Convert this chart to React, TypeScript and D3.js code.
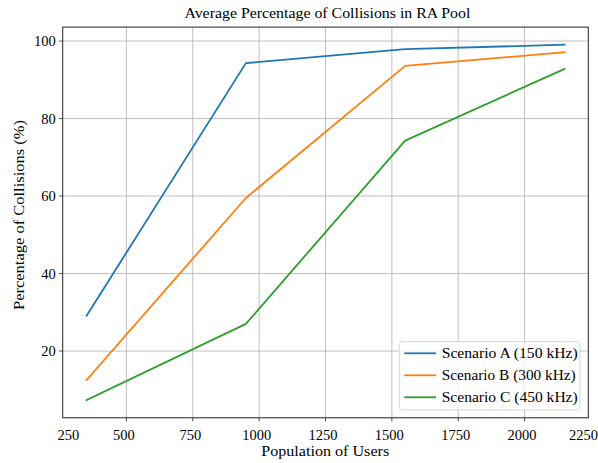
import React from "react";
import * as d3 from "d3";

const populations = [350, 950, 1550, 2150];
const seriesNames = ["Scenario A (150 kHz)", "Scenario B (300 kHz)", "Scenario C (450 kHz)"];
const scenarioA = [29.1, 94.3, 97.9, 99.05];
const scenarioB = [12.5, 59.5, 93.6, 97.1];
const scenarioC = [7.35, 27.0, 74.3, 92.8];
const seriesColors = ["#1f77b4", "#ff7f0e", "#2ca02c"];
const xTicks = [500, 750, 1000, 1250, 1500, 1750, 2000];
const xEdgeLabels = [250, 2250];
const yTicks = [20, 40, 60, 80, 100];

const W = 598;
const H = 463;
const left = 62.7, right = 588.3, top = 27.1, bottom = 417.8;
const FONT = "'Liberation Serif', 'DejaVu Serif', serif";

export default function App() {
  const x = d3.scaleLinear().domain([260, 2240]).range([left, right]);
  const y = d3.scaleLinear().domain([2.77, 103.6]).range([bottom, top]);
  const line = d3.line<number>().x((_, i) => x(populations[i])).y((d) => y(d));
  const all = [scenarioA, scenarioB, scenarioC];
  const legX = 399.3, legY = 341.7, legW = 180.7, legH = 68.3;
  const legendWidths = [136, 134, 136];
  return (
    <div style={{ position: "fixed", left: 0, top: 0 }}>
      <svg width={W} height={H} style={{ display: "block", background: "#fff" }} fontFamily={FONT}>
        <rect x={0} y={0} width={W} height={H} fill="#fff" />
        <defs>
          <clipPath id="plot">
            <rect x={left} y={top} width={right - left} height={bottom - top} />
          </clipPath>
        </defs>
        {xTicks.map((t) => (
          <line key={"gx" + t} x1={x(t)} x2={x(t)} y1={top} y2={bottom} stroke="#b0b0b0" strokeWidth={0.8} />
        ))}
        {yTicks.map((t) => (
          <line key={"gy" + t} x1={left} x2={right} y1={y(t)} y2={y(t)} stroke="#b0b0b0" strokeWidth={0.8} />
        ))}
        <g clipPath="url(#plot)">
          {all.map((s, i) => (
            <path key={i} d={line(s) || ""} fill="none" stroke={seriesColors[i]} strokeWidth={1.8} strokeLinejoin="round" strokeLinecap="square" />
          ))}
        </g>
        <rect x={left} y={top} width={right - left} height={bottom - top} fill="none" stroke="#222" strokeWidth={1} />
        {xTicks.map((t) => (
          <g key={"xt" + t}>
            <line x1={x(t)} x2={x(t)} y1={bottom} y2={bottom + 3.5} stroke="#222" strokeWidth={0.8} />
            <text x={x(t) - 2.5} y={440} textAnchor="middle" fontSize={14.5} fill="#000">{t}</text>
          </g>
        ))}
        <text x={68.3} y={440} textAnchor="middle" fontSize={14.5} fill="#000">{xEdgeLabels[0]}</text>
        <text x={583.5} y={440} textAnchor="middle" fontSize={14.5} fill="#000">{xEdgeLabels[1]}</text>
        {yTicks.map((t) => (
          <g key={"yt" + t}>
            <line x1={left - 3.5} x2={left} y1={y(t)} y2={y(t)} stroke="#222" strokeWidth={0.8} />
            <text x={left - 7} y={y(t) + 5} textAnchor="end" fontSize={14.5} fill="#000">{t}</text>
          </g>
        ))}
        <text x={327.4} y={17.5} textAnchor="middle" fontSize={15.5} fill="#000" textLength={286} lengthAdjust="spacingAndGlyphs">
          Average Percentage of Collisions in RA Pool
        </text>
        <text x={325.2} y={456} textAnchor="middle" fontSize={15.5} fill="#000" textLength={128} lengthAdjust="spacingAndGlyphs">
          Population of Users
        </text>
        <text transform={`translate(23.5,215) rotate(-90)`} textAnchor="middle" fontSize={15.5} fill="#000" textLength={190} lengthAdjust="spacingAndGlyphs">
          Percentage of Collisions (%)
        </text>
        <rect x={legX} y={legY} width={legW} height={legH} rx={3} fill="#fff" fillOpacity={0.8} stroke="#cccccc" strokeWidth={0.8} />
        {seriesNames.map((n, i) => (
          <g key={n}>
            <line x1={404.3} x2={436} y1={353.3 + i * 22} y2={353.3 + i * 22} stroke={seriesColors[i]} strokeWidth={1.8} />
            <text x={441.7} y={353.3 + i * 22 + 5} fontSize={15.5} fill="#000" textLength={legendWidths[i]} lengthAdjust="spacingAndGlyphs">{n}</text>
          </g>
        ))}
      </svg>
    </div>
  );
}
